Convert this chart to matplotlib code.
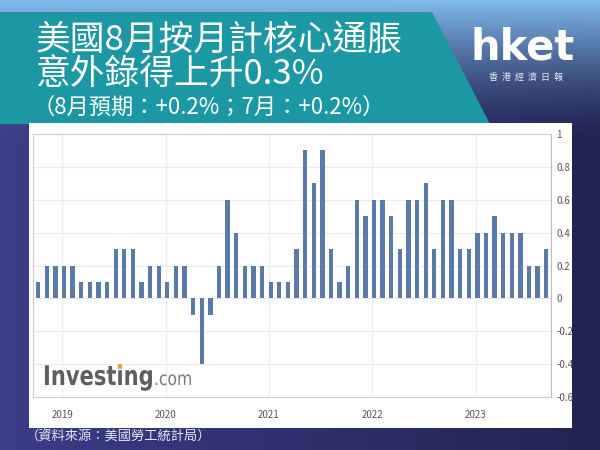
import numpy as np
import matplotlib
matplotlib.use("Agg")
import matplotlib.pyplot as plt
from matplotlib.patches import Polygon, Rectangle, PathPatch, Circle
from matplotlib.textpath import TextPath
from matplotlib.font_manager import FontProperties
from matplotlib.transforms import Affine2D, IdentityTransform

plt.rcParams['font.family'] = ['Noto Sans CJK TC', 'DejaVu Sans']

# US core CPI, month on month (%), Sep 2018 .. Aug 2023
first_year, first_month = 2018, 9
values = [0.1, 0.2, 0.2, 0.2,
          0.2, 0.1, 0.1, 0.1, 0.1, 0.3, 0.3, 0.3, 0.1, 0.2, 0.2, 0.1,
          0.2, 0.2, -0.1, -0.4, -0.1, 0.2, 0.6, 0.4, 0.2, 0.2, 0.2, 0.1,
          0.1, 0.1, 0.3, 0.9, 0.7, 0.9, 0.3, 0.1, 0.2, 0.6, 0.5, 0.6,
          0.6, 0.5, 0.3, 0.6, 0.6, 0.7, 0.3, 0.6, 0.6, 0.3, 0.3, 0.4,
          0.4, 0.5, 0.4, 0.4, 0.4, 0.2, 0.2, 0.3]
years = [2019, 2020, 2021, 2022, 2023]
yticks = [1, 0.8, 0.6, 0.4, 0.2, 0, -0.2, -0.4, -0.6]
ytick_labels = ['1', '0.8', '0.6', '0.4', '0.2', '0', '-0.2', '-0.4', '-0.6']

title1 = '美國8月按月計核心通脹'
title2 = '意外錄得上升0.3%'
title3 = '（8月預期：+0.2%；7月：+0.2%）'
source = '（資料來源：美國勞工統計局）'

W, H = 600, 450
fig = plt.figure(figsize=(6, 4.5), dpi=100)

# ---- background ----
bg = fig.add_axes([0, 0, 1, 1])
yy, xx = np.mgrid[0:H, 0:W]
left_c = np.array([0.23, 0.24, 0.53])
right_c = np.array([0.13, 0.14, 0.32])
t = (xx / W)[..., None]
img = left_c * (1 - t) + right_c * t
top_c = np.array([0.50, 0.74, 0.93])
w = np.clip(1 - yy / 140.0, 0, 1)[..., None] ** 1.5
img = img * (1 - w) + top_c * w
bg.imshow(img, extent=[0, W, H, 0], aspect='auto')
bg.set_xlim(0, W)
bg.set_ylim(H, 0)
bg.axis('off')

bg.add_patch(Polygon([(0, 12), (432, 12), (490, 124), (0, 124)],
                     closed=True, facecolor='#1c98a4', edgecolor='none'))
bg.add_patch(Rectangle((29, 123), 543, 305, facecolor='white', edgecolor='none'))

bg.text(36, 40, title1, color='white', fontsize=25, va='center', ha='left')
bg.text(36, 74, title2, color='white', fontsize=25, va='center', ha='left')
bg.text(33, 107, title3, color='white', fontsize=16, va='center', ha='left')
bg.text(523, 48, 'hket', color='white', fontsize=30, fontweight='bold',
        va='center', ha='center', family=['DejaVu Sans'])
bg.text(526, 77, '香  港  經  濟  日  報', color='#e8ecf5', fontsize=6.5,
        va='center', ha='center')
bg.text(26, 437, source, color='#e6e8f2', fontsize=9.5, va='center', ha='left')

# ---- chart ----
ax = fig.add_axes([33 / W, (H - 397) / H, (551 - 33) / W, (397 - 134) / H])
x = np.arange(len(values))
ax.bar(x, values, width=0.5, color='#5a7aa8', zorder=3)

# year gridlines sit a little before the January bar
year_pos = [(yr - first_year) * 12 + (1 - first_month) - 1.2 for yr in years]
ax.set_xticks(year_pos)
ax.set_xticklabels([str(y) for y in years])
ax.set_yticks(yticks)
ax.set_yticklabels(ytick_labels)
ax.set_xlim(-0.6, len(values) - 0.45)
ax.set_ylim(-0.6, 1.0)
ax.yaxis.tick_right()
ax.tick_params(axis='x', length=0, pad=9, labelsize=7, labelcolor='#555555')
ax.tick_params(axis='y', length=0, pad=4, labelsize=7, labelcolor='#555555')
ax.grid(True, color='#ececec', linewidth=0.8, zorder=0)
for s in ax.spines.values():
    s.set_color('#cccccc')
    s.set_linewidth(0.8)
ax.spines['right'].set_color('#bbbbbb')
ax.set_facecolor('white')

# Investing.com watermark, drawn as narrowed text paths (pixel coords)
bold = FontProperties(family='DejaVu Sans', weight='bold')
norm = FontProperties(family='DejaVu Sans')
sx = 0.78
tp = TextPath((0, 0), 'Investing', size=27, prop=bold)
base_x, base_y = 43, H - 385
ax.add_patch(PathPatch(tp, facecolor='#5e5e5e', edgecolor='none', zorder=5,
                       clip_on=False,
                       transform=Affine2D().scale(sx, 1).translate(base_x, base_y)
                       + IdentityTransform()))
w_a = TextPath((0, 0), 'Invest', size=27, prop=bold).get_extents().x1
w_b = TextPath((0, 0), 'Investi', size=27, prop=bold).get_extents().x1
dot_x = base_x + sx * (w_a + w_b) / 2 + 1
ax.add_patch(Circle((dot_x, base_y + 27 * 0.69), 2.3, facecolor='#f0a030',
                    edgecolor='none', zorder=6, clip_on=False,
                    transform=IdentityTransform()))
end_x = base_x + sx * tp.get_extents().x1 + 2
tc = TextPath((0, 0), '.com', size=19, prop=norm)
ax.add_patch(PathPatch(tc, facecolor='#7a7a7a', edgecolor='none', zorder=5,
                       clip_on=False,
                       transform=Affine2D().scale(0.82, 1).translate(end_x, base_y)
                       + IdentityTransform()))

fig.savefig('out.png', dpi=100)
